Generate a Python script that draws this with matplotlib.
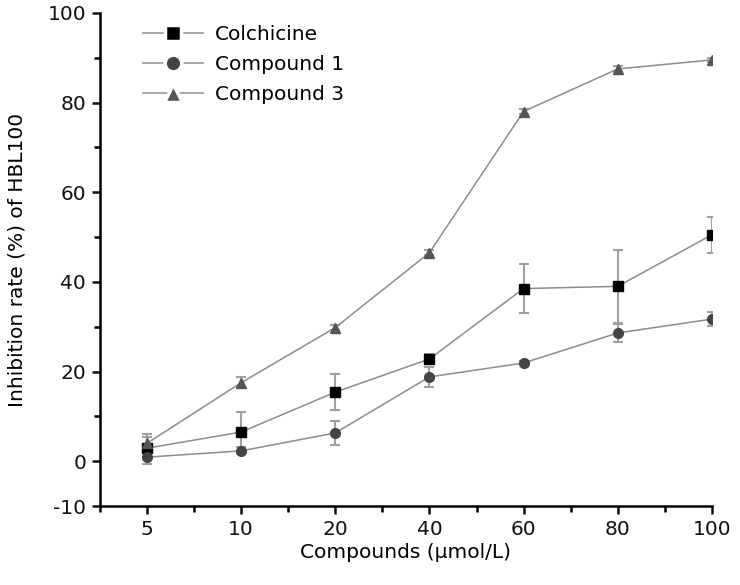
import matplotlib
matplotlib.use("Agg")
import matplotlib.pyplot as plt
from matplotlib.lines import Line2D
from matplotlib.ticker import MultipleLocator

# data
conc_labels = ['5', '10', '20', '40', '60', '80', '100']
colchicine = [2.9, 6.5, 15.4, 22.8, 38.5, 39.0, 50.5]
colchicine_err = [2.5, 4.5, 4.0, 1.0, 5.5, 8.1, 4.0]
compound1 = [0.9, 2.3, 6.3, 18.8, 21.9, 28.6, 31.7]
compound1_err = [1.5, 0.8, 2.7, 2.3, 0.5, 2.0, 1.5]
compound3 = [4.0, 17.5, 29.8, 46.5, 78.0, 87.5, 89.5]
compound3_err = [2.0, 1.2, 0.6, 0.6, 0.5, 0.6, 0.5]

plt.rcParams['font.family'] = ['DejaVu Sans']
plt.rcParams['axes.unicode_minus'] = False

fig = plt.figure(figsize=(7.4, 5.85), dpi=100)
ax = fig.add_axes([0.135, 0.135, 0.827, 0.843])

x = list(range(len(conc_labels)))
series = [
    ('Colchicine', colchicine, colchicine_err, 's', '#000000', 6.5),
    ('Compound 1', compound1, compound1_err, 'o', '#444444', 7),
    ('Compound 3', compound3, compound3_err, '^', '#555555', 7.5),
]
handles = []
for name, vals, errs, mk, mc, ms in series:
    ax.errorbar(x, vals, yerr=errs, color='#8c8c8c', lw=1.1,
                marker=mk, markersize=ms, markerfacecolor=mc,
                markeredgecolor=mc, ecolor='#a0a0a0', elinewidth=1.5,
                capsize=3.5, capthick=1.5)
    # legend entry: line broken around the marker, like the original
    handles.append(Line2D([], [], color='#a0a0a0', lw=1.3, marker=mk,
                          markersize=ms + 5, markerfacecolor=mc,
                          markeredgecolor='white', markeredgewidth=2.5,
                          label=name))

ax.set_xlim(-0.5, 6)
ax.set_ylim(-10, 100)
ax.set_xticks(x)
ax.set_xticklabels(conc_labels)
ax.xaxis.set_minor_locator(MultipleLocator(0.5))
ax.yaxis.set_minor_locator(MultipleLocator(10))
ax.set_yticks([-10, 0, 20, 40, 60, 80, 100])

for s in ['top', 'right']:
    ax.spines[s].set_visible(False)
for s in ['left', 'bottom']:
    ax.spines[s].set_linewidth(1.8)
ax.tick_params(which='major', direction='out', length=6, width=1.8,
               labelsize=14.5, colors='#111111', pad=4)
ax.tick_params(which='minor', direction='out', length=4, width=1.8)

ax.set_xlabel('Compounds (\u03bcmol/L)', fontsize=14.5, labelpad=3)
ax.set_ylabel('Inhibition rate (%) of HBL100', fontsize=14.5, labelpad=15)

ax.legend(handles=handles, loc='upper left', bbox_to_anchor=(0.04, 1.012),
          frameon=False, fontsize=14.5, handlelength=3.0, handletextpad=0.6,
          labelspacing=0.55)

fig.savefig('out.png', dpi=100)
